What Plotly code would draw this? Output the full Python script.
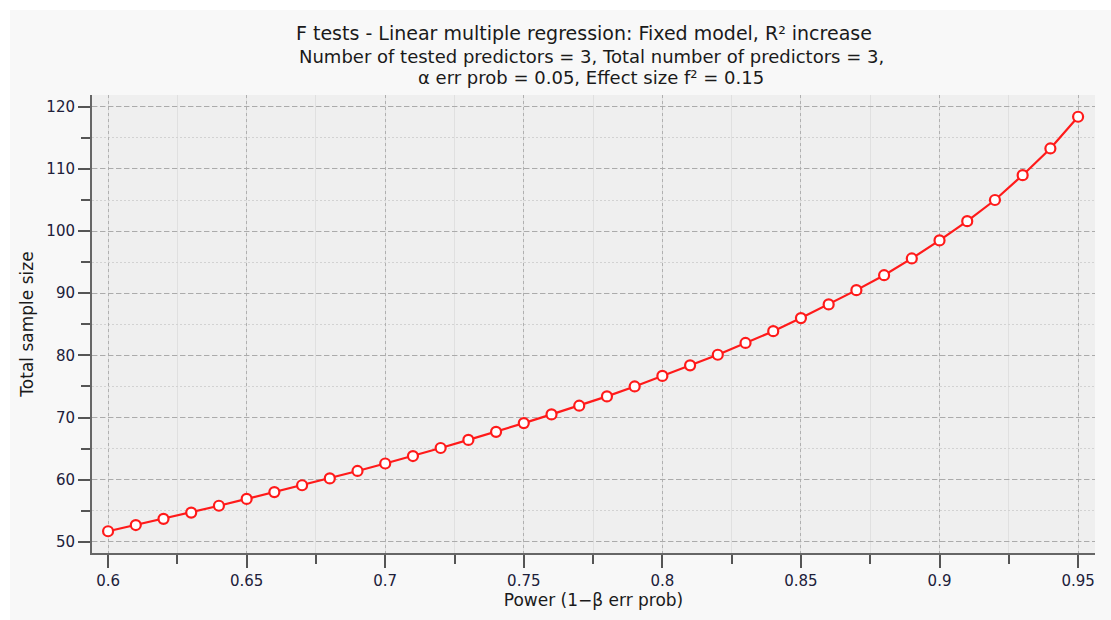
import plotly.graph_objects as go

power = [0.60, 0.61, 0.62, 0.63, 0.64, 0.65, 0.66, 0.67, 0.68, 0.69,
         0.70, 0.71, 0.72, 0.73, 0.74, 0.75, 0.76, 0.77, 0.78, 0.79,
         0.80, 0.81, 0.82, 0.83, 0.84, 0.85, 0.86, 0.87, 0.88, 0.89,
         0.90, 0.91, 0.92, 0.93, 0.94, 0.95]
sample_size = [51.7, 52.7, 53.7, 54.7, 55.8, 56.9, 58.0, 59.1, 60.2, 61.4,
               62.6, 63.8, 65.1, 66.4, 67.7, 69.1, 70.5, 71.9, 73.4, 75.0,
               76.7, 78.4, 80.1, 82.0, 83.9, 86.0, 88.2, 90.5, 92.9, 95.6,
               98.5, 101.6, 105.0, 109.0, 113.3, 118.4]
x_ticks = [0.6, 0.65, 0.7, 0.75, 0.8, 0.85, 0.9, 0.95]
x_tick_labels = ["0.6", "0.65", "0.7", "0.75", "0.8", "0.85", "0.9", "0.95"]
y_ticks = [50, 60, 70, 80, 90, 100, 110, 120]

title_line = "F tests - Linear multiple regression: Fixed model, R² increase"
sub_line1 = "Number of tested predictors = 3, Total number of predictors = 3,"
sub_line2 = "α err prob = 0.05, Effect size f² = 0.15"

W, H = 1111, 620
L, R, T, B = 92, 16, 95, 67
pw = W - L - R
ph = H - T - B

def px_x(p):
    return (p - L) / pw

def px_y(p):
    return 1 - (p - T) / ph

fig = go.Figure()
fig.add_trace(go.Scatter(
    x=power, y=sample_size, mode="lines+markers",
    line=dict(color="#ff1a1a", width=2.2),
    marker=dict(symbol="circle", size=10, color="white",
                line=dict(color="#ff1a1a", width=2.2)),
    showlegend=False, cliponaxis=False,
))

FONT = "DejaVu Sans"
tick_font = dict(family=FONT, size=15, color="#20203a")
text_col = "#1a1a1a"

fig.update_layout(
    width=W, height=H,
    margin=dict(l=L, r=R, t=T, b=B),
    paper_bgcolor="#f8f8f8",
    plot_bgcolor="#efefef",
    xaxis=dict(
        range=[0.5942, 0.9561],
        tickvals=x_ticks, ticktext=x_tick_labels,
        ticks="outside", ticklen=13, tickwidth=2, tickcolor="#555555",
        showline=True, linecolor="#666666", linewidth=2,
        showgrid=True, gridcolor="#b0b0b0", gridwidth=1.2, griddash="3px,3px",
        zeroline=False,
        tickfont=tick_font,
        minor=dict(dtick=0.025, tick0=0.6, ticks="outside", ticklen=9, tickwidth=2,
                   tickcolor="#555555", showgrid=True, gridcolor="#e0e0e0",
                   gridwidth=1, griddash="solid"),
        title=dict(text="Power (1−β err prob)", standoff=4,
                   font=dict(family=FONT, size=17, color=text_col)),
    ),
    yaxis=dict(
        range=[48.2, 121.9],
        tickvals=y_ticks,
        ticks="outside", ticklen=12, tickwidth=2, tickcolor="#555555",
        showline=True, linecolor="#666666", linewidth=2,
        showgrid=True, gridcolor="#ababab", gridwidth=1.2, griddash="5px,3px",
        zeroline=False,
        tickfont=tick_font,
        minor=dict(dtick=5, tick0=50, ticks="outside", ticklen=9, tickwidth=2,
                   tickcolor="#555555", showgrid=True, gridcolor="#d2d2d2",
                   gridwidth=1, griddash="2px,2px"),
        title=dict(text="Total sample size", standoff=8,
                   font=dict(family=FONT, size=17, color=text_col)),
    ),
    shapes=[
        dict(type="rect", xref="paper", yref="paper",
             x0=px_x(0), x1=px_x(10), y0=px_y(H), y1=px_y(0),
             fillcolor="white", line=dict(width=0), layer="below"),
        dict(type="rect", xref="paper", yref="paper",
             x0=px_x(0), x1=px_x(W), y0=px_y(10), y1=px_y(0),
             fillcolor="white", line=dict(width=0), layer="below"),
    ],
    annotations=[
        dict(text=title_line, xref="paper", yref="paper", x=px_x(584), y=px_y(33),
             xanchor="center", yanchor="middle", showarrow=False,
             font=dict(family=FONT, size=19, color=text_col)),
        dict(text=sub_line1, xref="paper", yref="paper", x=px_x(591), y=px_y(57),
             xanchor="center", yanchor="middle", showarrow=False,
             font=dict(family=FONT, size=18, color=text_col)),
        dict(text=sub_line2, xref="paper", yref="paper", x=px_x(591), y=px_y(78),
             xanchor="center", yanchor="middle", showarrow=False,
             font=dict(family=FONT, size=18, color=text_col)),
    ],
)

fig.write_html("out.html")
